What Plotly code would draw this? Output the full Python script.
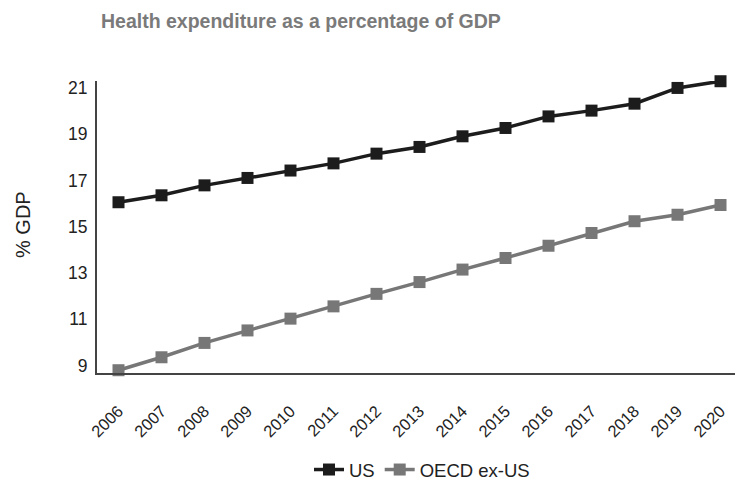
import plotly.graph_objects as go

years = ["2006", "2007", "2008", "2009", "2010", "2011", "2012", "2013",
         "2014", "2015", "2016", "2017", "2018", "2019", "2020"]
us = [16.06, 16.36, 16.79, 17.11, 17.43, 17.74, 18.16, 18.45,
      18.91, 19.27, 19.77, 20.02, 20.32, 21.0, 21.29]
oecd_ex_us = [8.80, 9.36, 9.98, 10.52, 11.03, 11.56, 12.10, 12.61,
              13.15, 13.65, 14.18, 14.73, 15.24, 15.52, 15.94]
y_ticks = [9, 11, 13, 15, 17, 19, 21]

FONT = "Liberation Sans, Arial, sans-serif"

fig = go.Figure()
fig.add_trace(go.Scatter(
    x=years, y=us, name="US", mode="lines+markers",
    line=dict(color="#1c1c1c", width=3.5),
    marker=dict(symbol="square", size=12, color="#1c1c1c"),
    cliponaxis=False))
fig.add_trace(go.Scatter(
    x=years, y=oecd_ex_us, name="OECD ex-US", mode="lines+markers",
    line=dict(color="#777777", width=3.5),
    marker=dict(symbol="square", size=12, color="#777777"),
    cliponaxis=False))

fig.update_layout(
    width=735, height=481,
    margin=dict(l=97, r=0, t=81, b=108),
    paper_bgcolor="white", plot_bgcolor="white",
    font=dict(family=FONT, color="#222222", size=16),
    title=dict(text="<b>Health expenditure as a percentage of GDP</b>",
               x=101 / 735, xanchor="left", y=1 - 21 / 481, yanchor="middle",
               font=dict(family=FONT, size=19.5, color="#7a7a7a")),
    showlegend=True,
    legend=dict(orientation="h", x=422 / 735, xanchor="center", xref="container",
                y=11 / 481, yanchor="middle", yref="container",
                font=dict(size=18.5, color="#222222"),
                itemwidth=30, tracegroupgap=0),
    xaxis=dict(type="category", range=[-0.5, 14.337], showgrid=False,
               showline=True, linecolor="#444444", linewidth=2,
               tickangle=-45, tickfont=dict(size=16.5),
               ticks="", ticklabelstandoff=20, zeroline=False),
    yaxis=dict(range=[8.68, 21.3], tickvals=y_ticks, showgrid=False,
               showline=True, linecolor="#444444", linewidth=2,
               ticks="", ticklen=0, tickfont=dict(size=17.5), ticklabelstandoff=4,
               zeroline=False),
    annotations=[dict(text="% GDP", xref="paper", x=(23 - 97) / 638,
                      yref="paper", y=(481 - 225 - 108) / 292,
                      textangle=-90, showarrow=False, xanchor="center", yanchor="middle",
                      font=dict(size=20, color="#222222"))],
)

fig.write_html("out.html")
